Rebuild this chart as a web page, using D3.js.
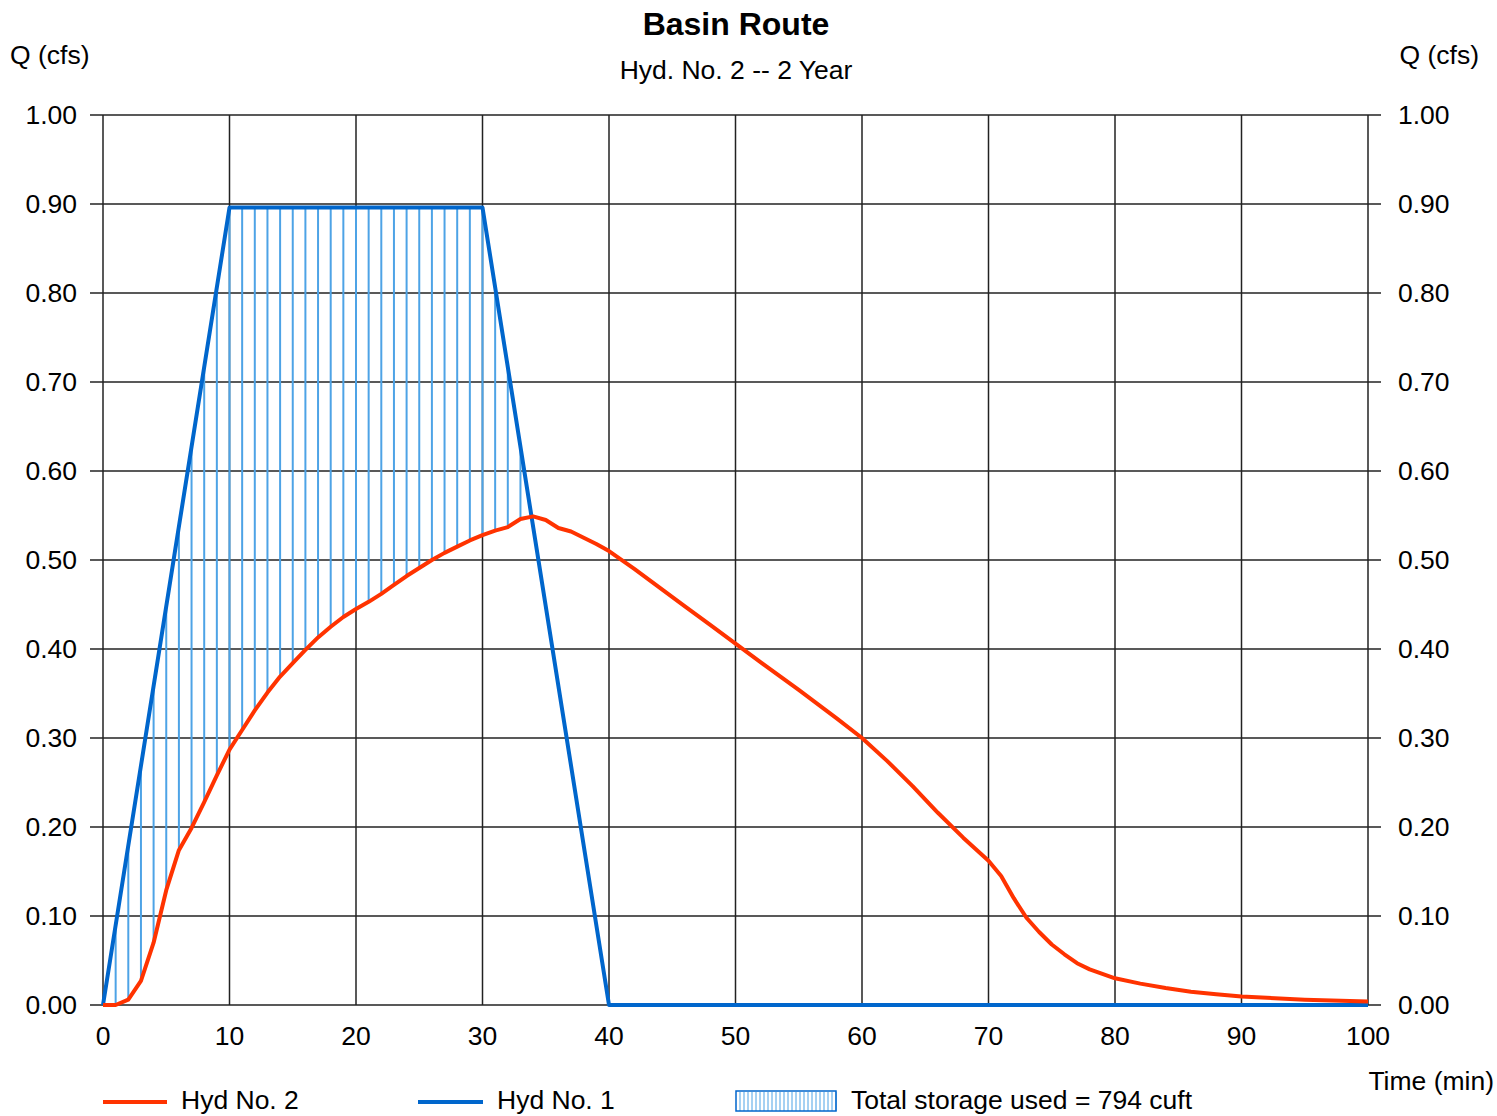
<!DOCTYPE html>
<html><head><meta charset="utf-8">
<script src="https://cdn.jsdelivr.net/npm/d3@7"></script>
<style>body{margin:0;background:#fff}svg{display:block}text{font-family:"Liberation Sans",Arial,sans-serif;fill:#000}</style>
</head><body>
<svg id="c" width="1497" height="1116"></svg>
<script>
// Data
const inflowTime = [0, 10, 30, 40, 100];
const inflowQ    = [0, 0.896, 0.896, 0, 0];
const outflowTime = [0,1,2,3,4,5,6,7,8,9,10,11,12,13,14,15,16,17,18,19,20,21,22,23,24,25,26,27,28,29,30,31,32,33,34,35,36,37,38,39,40,42,44,46,48,50,52,55,58,60,62,64,66,68,70,71,72,73,74,75,76,77,78,80,82,84,86,88,90,95,100];
const outflowQ    = [0,0,0.006,0.027,0.07,0.129,0.174,0.199,0.228,0.258,0.287,0.309,0.331,0.351,0.369,0.384,0.399,0.413,0.425,0.436,0.445,0.453,0.462,0.472,0.482,0.491,0.50,0.508,0.515,0.522,0.528,0.533,0.537,0.546,0.549,0.545,0.536,0.532,0.525,0.518,0.510,0.490,0.469,0.448,0.427,0.406,0.385,0.354,0.322,0.300,0.274,0.246,0.216,0.188,0.162,0.145,0.120,0.098,0.082,0.068,0.057,0.047,0.040,0.030,0.024,0.019,0.015,0.012,0.0095,0.006,0.004];
const xTicks = [0,10,20,30,40,50,60,70,80,90,100];
const yTicks = [0,0.1,0.2,0.3,0.4,0.5,0.6,0.7,0.8,0.9,1.0];
const hatchTimes = d3.range(1, 34);

const FS = 26.5;
const svg = d3.select("#c");
const x = d3.scaleLinear().domain([0,100]).range([103,1368]);
const y = d3.scaleLinear().domain([0,1]).range([1005,115]);
const inflowAt = t => { for (let i=1;i<inflowTime.length;i++){ if (t<=inflowTime[i]){ const f=(t-inflowTime[i-1])/(inflowTime[i]-inflowTime[i-1]); return inflowQ[i-1]+f*(inflowQ[i]-inflowQ[i-1]); } } return 0; };
const outflowAt = t => { const i=outflowTime.indexOf(t); return outflowQ[i]; };

// grid
const g = svg.append("g");
g.selectAll("line.h").data(yTicks).join("line")
  .attr("x1",90).attr("x2",1381).attr("y1",d=>y(d)).attr("y2",d=>y(d))
  .attr("stroke","#222").attr("stroke-width",1.5);
g.selectAll("line.v").data(xTicks).join("line")
  .attr("x1",d=>x(d)).attr("x2",d=>x(d)).attr("y1",y(1)).attr("y2",y(0))
  .attr("stroke","#222").attr("stroke-width",1.5);

// tick labels
g.selectAll("text.yl").data(yTicks).join("text")
  .attr("x",77).attr("y",d=>y(d)+9).attr("text-anchor","end").attr("font-size",FS)
  .text(d=>d3.format(".2f")(d));
g.selectAll("text.yr").data(yTicks).join("text")
  .attr("x",1398).attr("y",d=>y(d)+9).attr("text-anchor","start").attr("font-size",FS)
  .text(d=>d3.format(".2f")(d));
g.selectAll("text.xl").data(xTicks).join("text")
  .attr("x",d=>x(d)).attr("y",1045).attr("text-anchor","middle").attr("font-size",FS)
  .text(d=>d);

// hatching
svg.append("g").selectAll("line").data(hatchTimes.filter(t=>inflowAt(t)>outflowAt(t))).join("line")
  .attr("x1",d=>x(d)).attr("x2",d=>x(d))
  .attr("y1",d=>y(outflowAt(d))).attr("y2",d=>y(inflowAt(d)))
  .attr("stroke","#4da3e6").attr("stroke-width",2);

// lines
const line = d3.line().x(d=>x(d[0])).y(d=>y(d[1]));
svg.append("path").datum(inflowTime.map((t,i)=>[t,inflowQ[i]]))
  .attr("d",line).attr("fill","none").attr("stroke","#0066cc").attr("stroke-width",4).attr("stroke-linejoin","round");
svg.append("path").datum(outflowTime.map((t,i)=>[t,outflowQ[i]]))
  .attr("d",line).attr("fill","none").attr("stroke","#ff3300").attr("stroke-width",4).attr("stroke-linejoin","round");

// titles
svg.append("text").attr("x",736).attr("y",35).attr("text-anchor","middle").attr("font-size",32).attr("font-weight","bold").text("Basin Route");
svg.append("text").attr("x",736).attr("y",79).attr("text-anchor","middle").attr("font-size",FS).text("Hyd. No. 2 -- 2 Year");
svg.append("text").attr("x",10).attr("y",64).attr("font-size",FS).text("Q (cfs)");
svg.append("text").attr("x",1479).attr("y",64).attr("text-anchor","end").attr("font-size",FS).text("Q (cfs)");
svg.append("text").attr("x",1494).attr("y",1090).attr("text-anchor","end").attr("font-size",FS).text("Time (min)");

// legend
const lg = svg.append("g");
lg.append("line").attr("x1",103).attr("x2",167).attr("y1",1102).attr("y2",1102).attr("stroke","#ff3300").attr("stroke-width",4);
lg.append("text").attr("x",181).attr("y",1109).attr("font-size",FS).text("Hyd No. 2");
lg.append("line").attr("x1",418).attr("x2",483).attr("y1",1102).attr("y2",1102).attr("stroke","#0066cc").attr("stroke-width",4);
lg.append("text").attr("x",497).attr("y",1109).attr("font-size",FS).text("Hyd No. 1");
lg.selectAll("line.hb").data(d3.range(0,25)).join("line")
  .attr("x1",d=>740+d*4).attr("x2",d=>740+d*4).attr("y1",1092).attr("y2",1111)
  .attr("stroke","#4da3e6").attr("stroke-width",1);
lg.append("rect").attr("x",736).attr("y",1091).attr("width",100).attr("height",20).attr("fill","none").attr("stroke","#0066cc").attr("stroke-width",1.5);
lg.append("text").attr("x",851).attr("y",1109).attr("font-size",FS).text("Total storage used = 794 cuft");
</script>
</body></html>
